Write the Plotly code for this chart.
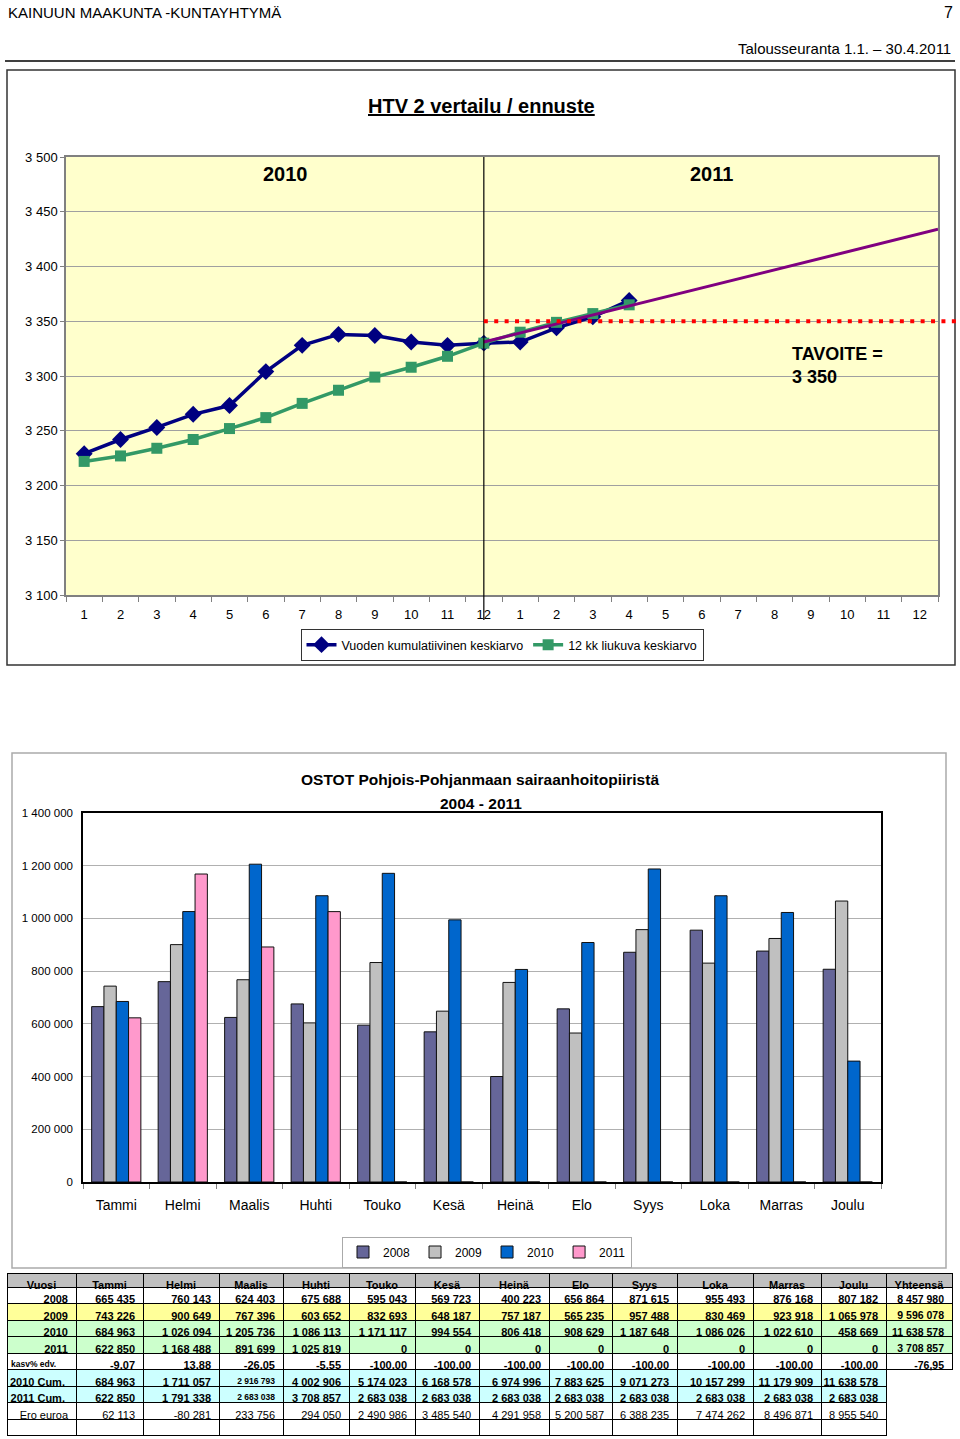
import numpy as np
import plotly.graph_objects as go

W, H = 960, 1439


def fx(px):
    return px / W


def fy(py):
    return 1 - py / H


SANS = "Liberation Sans, Arial, Helvetica, sans-serif"

# ---------------- HTV chart data ----------------
htv_tick_labels = ["1", "2", "3", "4", "5", "6", "7", "8", "9", "10", "11", "12",
                   "1", "2", "3", "4", "5", "6", "7", "8", "9", "10", "11", "12"]
kumulatiivinen = [3229, 3242, 3253, 3265, 3273, 3304, 3328, 3338, 3337, 3331, 3328, 3330,
                  3331, 3344, 3354, 3369]
liukuva = [3222, 3227, 3234, 3242, 3252, 3262, 3275, 3287, 3299, 3308, 3318, 3330,
           3340, 3349, 3357, 3365]
trend_positions = [11, 23.5]
trend_values = [3331, 3434]
tavoite = 3350
year_split_position = 11
htv_range = [3100, 3500]

# ---------------- OSTOT data ----------------
months = ["Tammi", "Helmi", "Maalis", "Huhti", "Touko", "Kesä", "Heinä", "Elo",
          "Syys", "Loka", "Marras", "Joulu"]
years = ["2008", "2009", "2010", "2011"]
ostot_2008 = [665435, 760143, 624403, 675688, 595043, 569723, 400223, 656864,
              871615, 955493, 876168, 807182]
ostot_2009 = [743226, 900649, 767396, 603652, 832693, 648187, 757187, 565235,
              957488, 830469, 923918, 1065978]
ostot_2010 = [684963, 1026094, 1205736, 1086113, 1171117, 994554, 806418, 908629,
              1187648, 1086026, 1022610, 458669]
ostot_2011 = [622850, 1168488, 891699, 1025819, 0, 0, 0, 0, 0, 0, 0, 0]
yhteensa = [8457980, 9596078, 11638578, 3708857]
kasv_pct = [-9.07, 13.88, -26.05, -5.55, -100.00, -100.00, -100.00, -100.00,
            -100.00, -100.00, -100.00, -100.00]
kasv_total = -76.95
cum_2010 = [684963, 1711057, 2916793, 4002906, 5174023, 6168578, 6974996, 7883625,
            9071273, 10157299, 11179909, 11638578]
cum_2011 = [622850, 1791338, 2683038, 3708857, 2683038, 2683038, 2683038, 2683038,
            2683038, 2683038, 2683038, 2683038]
ero_euroa = [62113, -80281, 233756, 294050, 2490986, 3485540, 4291958, 5200587,
             6388235, 7474262, 8496871, 8955540]
bar_colors = ["#666699", "#C0C0C0", "#0066CC", "#FF99CC"]
table_header = ["Vuosi"] + months + ["Yhteensä"]

NB = "\u00a0"


def fmt_int(v):
    return f"{v:,}".replace(",", NB)


def fmt_pct(v):
    return f"{v:.2f}".replace(".", ",")


fig = go.Figure()

# ---------- top chart ----------
fig.add_trace(go.Scatter(
    x=list(range(len(kumulatiivinen))), y=kumulatiivinen, mode="lines+markers",
    name="Vuoden kumulatiivinen keskiarvo",
    line=dict(color="#000080", width=3.5),
    marker=dict(symbol="diamond", size=13, color="#000080"),
    xaxis="x", yaxis="y", legend="legend", hoverinfo="skip"))
fig.add_trace(go.Scatter(
    x=list(range(len(liukuva))), y=liukuva, mode="lines+markers", name="12 kk liukuva keskiarvo",
    line=dict(color="#339966", width=3.5),
    marker=dict(symbol="square", size=11, color="#339966"),
    xaxis="x", yaxis="y", legend="legend", hoverinfo="skip"))
fig.add_trace(go.Scatter(
    x=trend_positions, y=trend_values, mode="lines", showlegend=False,
    line=dict(color="#800080", width=3), xaxis="x", yaxis="y", hoverinfo="skip"))

# ---------- bar chart ----------
for yr, vals, col in zip(years, [ostot_2008, ostot_2009, ostot_2010, ostot_2011], bar_colors):
    fig.add_trace(go.Bar(
        x=months, y=vals, name=yr, marker=dict(color=col, line=dict(color="#111111", width=1)),
        xaxis="x2", yaxis="y2", legend="legend2", hoverinfo="skip"))

# ---------- table (bold part: header + 7 rows) ----------
col_widths = [69, 67, 76, 64, 66, 66, 64, 70, 63, 65, 76, 68, 65, 66]
row_labels = ["2008", "2009", "2010", "2011", "kasv%" + NB + "edv." + NB * 5,
              "2010" + NB + "Cum." + NB, "2011" + NB + "Cum." + NB]
series_rows = [ostot_2008, ostot_2009, ostot_2010, ostot_2011]
columns = [row_labels]
for i in range(len(months)):
    col = [fmt_int(s[i]) for s in series_rows]
    col += [fmt_pct(kasv_pct[i]), fmt_int(cum_2010[i]), fmt_int(cum_2011[i])]
    columns.append(col)
columns.append([fmt_int(v) for v in yhteensa] + [fmt_pct(kasv_total), "", ""])

nrows = len(row_labels)
ncols = len(columns)
row_fill = ["#FFFFFF", "#FFFF99", "#CCFFCC", "#CCFFCC", "#FFFFFF", "#CCFFFF", "#CCFFFF"]
clear = "rgba(0,0,0,0)"
fill_colors = [list(row_fill) for _ in range(ncols - 1)] + [row_fill[:5] + [clear] * 2]
line_colors = [["#000000"] * nrows for _ in range(ncols - 1)] + [["#000000"] * 5 + [clear] * 2]
sizes = np.full((ncols, nrows), 11.0)
sizes[0][4] = 8.5
sizes[3][5] = 8.5
sizes[3][6] = 8.5
sizes[ncols - 1][:] = 10.5

header_h, row_h, table_top = 14, 16.5, 1273
bold_bottom = table_top + header_h + nrows * row_h

fig.add_trace(go.Table(
    domain=dict(x=[fx(7), fx(952)], y=[fy(bold_bottom), fy(table_top)]),
    columnwidth=col_widths,
    header=dict(values=table_header, fill_color="#C0C0C0", line=dict(color="#000000", width=1),
                align="center", height=header_h,
                font=dict(family=SANS, size=11, color="#000000", weight=700)),
    cells=dict(values=columns, fill_color=fill_colors, line=dict(color=line_colors, width=1),
               align="right", height=row_h,
               font=dict(family=SANS, size=sizes, color="#000000", weight=700)),
))

# ---------- table (plain part: Ero euroa row + empty row) ----------
ero_row = ["Ero" + NB + "euroa"] + [fmt_int(v) for v in ero_euroa] + [""]
plain_col_fill = ["#FFFFFF"] * (ncols - 1) + [clear]
plain_col_line = ["#000000"] * (ncols - 1) + [clear]

fig.add_trace(go.Table(
    domain=dict(x=[fx(7), fx(952)], y=[0, fy(bold_bottom)]),
    columnwidth=col_widths,
    header=dict(values=ero_row, fill_color=plain_col_fill, line=dict(color=plain_col_line, width=1),
                align="right", height=row_h,
                font=dict(family=SANS, size=11, color="#000000", weight=400)),
    cells=dict(values=[[""] for _ in range(ncols)], fill_color=plain_col_fill,
               line=dict(color=plain_col_line, width=1), align="right", height=row_h,
               font=dict(family=SANS, size=11, color="#000000", weight=400)),
))

# ---------- layout ----------
top_l, top_r, top_t, top_b = 66, 938, 157, 595
bot_l, bot_r, bot_t, bot_b = 83, 881, 813, 1182

n_cat = len(htv_tick_labels)
split_dom = (year_split_position + 0.5) / n_cat
tavoite_dom = (tavoite - htv_range[0]) / (htv_range[1] - htv_range[0])

shapes = [
    dict(type="line", xref="paper", yref="paper", x0=fx(5), x1=fx(955), y0=fy(61), y1=fy(61),
         line=dict(color="#000000", width=1.5)),
    dict(type="rect", xref="paper", yref="paper", x0=fx(7), x1=fx(955), y0=fy(665), y1=fy(70),
         line=dict(color="#333333", width=1.5)),
    dict(type="rect", xref="paper", yref="paper", x0=fx(12), x1=fx(946), y0=fy(1268), y1=fy(753),
         line=dict(color="#AAAAAA", width=1.5)),
    dict(type="rect", xref="x domain", yref="y domain", x0=0, x1=1, y0=0, y1=1,
         fillcolor="#FFFFCC", line=dict(width=0), layer="below"),
    dict(type="line", xref="x domain", yref="y domain", x0=split_dom, x1=split_dom,
         y0=-(620 - top_b) / (top_b - top_t), y1=1, line=dict(color="#000000", width=1.2)),
    dict(type="line", xref="x domain", yref="y domain", x0=split_dom,
         x1=(956 - top_l) / (top_r - top_l), y0=tavoite_dom, y1=tavoite_dom,
         line=dict(color="#FF0000", width=4, dash="4px,6.4px")),
]

annotations = [
    dict(text="KAINUUN MAAKUNTA -KUNTAYHTYMÄ", x=fx(6), y=fy(12), xanchor="left", yanchor="middle",
         font=dict(family=SANS, size=15, color="#000000")),
    dict(text="7", x=fx(955), y=fy(12), xanchor="right", yanchor="middle",
         font=dict(family=SANS, size=16, color="#000000")),
    dict(text="Talousseuranta 1.1. – 30.4.2011", x=fx(953), y=fy(48), xanchor="right", yanchor="middle",
         font=dict(family=SANS, size=15, color="#000000")),
    dict(text="<u>HTV 2 vertailu / ennuste</u>", x=fx(481), y=fy(106), xanchor="center", yanchor="middle",
         font=dict(family=SANS, size=20, color="#000000", weight=700)),
    dict(text="2010", x=fx(285), y=fy(174), xanchor="center", yanchor="middle",
         font=dict(family=SANS, size=20, color="#000000", weight=700)),
    dict(text="2011", x=fx(711), y=fy(174), xanchor="center", yanchor="middle",
         font=dict(family=SANS, size=20, color="#000000", weight=700)),
    dict(text="TAVOITE =<br>3 350", x=fx(790), y=fy(365), xanchor="left", yanchor="middle", align="left",
         font=dict(family=SANS, size=18, color="#000000", weight=700)),
    dict(text="OSTOT Pohjois-Pohjanmaan sairaanhoitopiiristä", x=fx(480), y=fy(780), xanchor="center",
         yanchor="middle", font=dict(family=SANS, size=15.5, color="#000000", weight=700)),
    dict(text="2004 - 2011", x=fx(481), y=fy(803), xanchor="center", yanchor="middle",
         font=dict(family=SANS, size=15.5, color="#000000", weight=700)),
]
for a in annotations:
    a.update(xref="paper", yref="paper", showarrow=False)

fig.update_layout(
    width=W, height=H, autosize=False,
    margin=dict(l=0, r=0, t=0, b=0, pad=0, autoexpand=False),
    paper_bgcolor="#FFFFFF", plot_bgcolor="rgba(0,0,0,0)",
    separators=", ",
    font=dict(family=SANS, color="#000000"),
    barmode="group", bargap=0.26, bargroupgap=0,
    xaxis=dict(domain=[fx(top_l), fx(top_r)], range=[-0.5, n_cat - 0.5],
               tickmode="array", tickvals=list(range(n_cat)), ticktext=htv_tick_labels,
               ticks="", showgrid=False, zeroline=False, ticklabelstandoff=7,
               tickfont=dict(family=SANS, size=13, color="#000000"),
               showline=True, linecolor="#808080", linewidth=1.5, mirror=True,
               minor=dict(tickmode="linear", tick0=-0.5, dtick=1, ticks="outside", ticklen=5,
                          tickcolor="#808080", showgrid=False),
               anchor="y", fixedrange=True, automargin=False),
    yaxis=dict(domain=[fy(top_b), fy(top_t)], range=htv_range, dtick=50, tickformat=",d",
               ticks="outside", ticklen=4, tickcolor="#808080",
               showgrid=True, gridcolor="#A0A0A0", gridwidth=1, zeroline=False,
               tickfont=dict(family=SANS, size=13, color="#000000"),
               showline=True, linecolor="#808080", linewidth=1.5, mirror=True,
               anchor="x", fixedrange=True, automargin=False),
    xaxis2=dict(domain=[fx(bot_l), fx(bot_r)], type="category", tickson="boundaries",
                ticks="outside", ticklen=5, tickcolor="#808080", showgrid=False,
                ticklabelstandoff=9,
                tickfont=dict(family=SANS, size=14, color="#000000"),
                showline=True, linecolor="#000000", linewidth=1.5, mirror=True,
                anchor="y2", fixedrange=True, automargin=False),
    yaxis2=dict(domain=[fy(bot_b), fy(bot_t)], range=[0, 1400000], dtick=200000, tickformat=",d",
                ticks="", showgrid=True, gridcolor="#B0B0B0", gridwidth=1, zeroline=False,
                ticklabelstandoff=6,
                tickfont=dict(family=SANS, size=11.5, color="#000000"),
                showline=True, linecolor="#000000", linewidth=1.5, mirror=True,
                anchor="x2", fixedrange=True, automargin=False),
    legend=dict(orientation="h", x=fx(502), y=fy(645), xanchor="center", yanchor="middle",
                bgcolor="#FFFFFF", bordercolor="#333333", borderwidth=1,
                font=dict(family=SANS, size=12.5, color="#000000"), itemwidth=30),
    legend2=dict(orientation="h", x=fx(487), y=fy(1252), xanchor="center", yanchor="middle",
                 bgcolor="#FFFFFF", bordercolor="#AAAAAA", borderwidth=1,
                 font=dict(family=SANS, size=12, color="#000000"), itemwidth=30),
    shapes=shapes,
    annotations=annotations,
    showlegend=True,
)

page_js = ("document.documentElement.style.margin='0';document.body.style.margin='0';"
           "document.body.style.overflow='hidden';")

fig.write_html("out.html", config={"displayModeBar": False}, post_script=page_js)
